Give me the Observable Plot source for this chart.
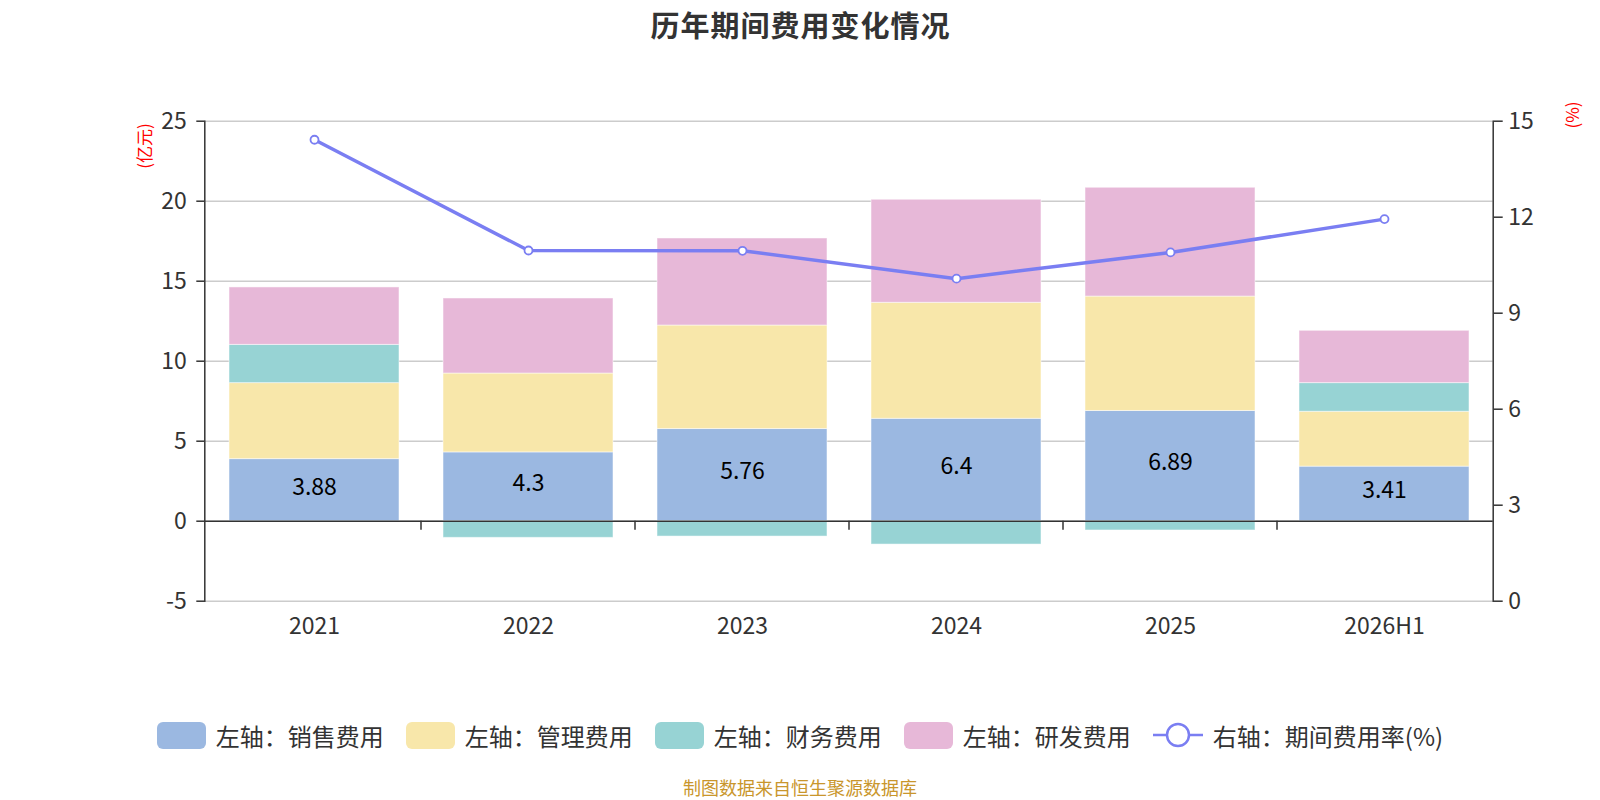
<!DOCTYPE html>
<html><head><meta charset="utf-8">
<script src="https://cdn.jsdelivr.net/npm/d3@7"></script>
<script src="https://cdn.jsdelivr.net/npm/@observablehq/plot@0.6"></script>
<style>
body{margin:0;background:#fff;font-family:"Noto Sans CJK SC","Noto Sans",sans-serif;}
#wrap{position:relative;width:1600px;height:800px;overflow:hidden;}
#title{height:60px;line-height:48px;text-align:center;font-size:29px;font-weight:bold;color:#333;letter-spacing:1px;padding-left:1px;box-sizing:border-box;}
#chart{height:640px;}
#legend{height:70px;display:flex;justify-content:center;align-items:center;gap:22px;font-size:24px;color:#333;}
.item{display:flex;align-items:center;}
.sw{width:49px;height:27px;border-radius:6px;margin-right:10px;}
#caption{height:30px;line-height:34px;text-align:center;font-size:18px;color:#c9962c;}
.unit{position:absolute;color:#ff0000;font-size:17px;transform:translate(-50%,-50%) rotate(-90deg);white-space:nowrap;line-height:1;}
</style></head>
<body>
<div id="wrap">
  <div id="title">历年期间费用变化情况</div>
  <div id="chart"></div>
  <div id="legend"></div>
  <div id="caption">制图数据来自恒生聚源数据库</div>
  <div class="unit" style="left:143px;top:146px;">(亿元)</div>
  <div class="unit" style="left:1571px;top:115px;">(%)</div>
</div>
<script>
const years = ["2021","2022","2023","2024","2025","2026H1"];
const sales = [3.88, 4.3, 5.76, 6.4, 6.89, 3.41];
const admin = [4.75, 4.93, 6.47, 7.25, 7.15, 3.43];
const finance = [2.39, -1.04, -0.96, -1.46, -0.58, 1.79];
const rnd = [3.59, 4.69, 5.44, 6.44, 6.80, 3.27];
const rate = [14.42, 10.96, 10.95, 10.08, 10.90, 11.94];

const seriesNames = ["左轴：销售费用","左轴：管理费用","左轴：财务费用","左轴：研发费用"];
const seriesColors = ["#9bb8e1","#f8e7aa","#97d3d4","#e7b8d8"];
const lineName = "右轴：期间费用率(%)";
const lineColor = "#7a7ef2";
const leftTicks = [-5,0,5,10,15,20,25];
const rightTicks = [0,3,6,9,12,15];

const seriesValues = [sales, admin, finance, rnd];
const stackRows = [];
seriesValues.forEach((vals, s) => vals.forEach((v, i) => stackRows.push({year: years[i], series: seriesNames[s], value: v})));
// right axis (0..15) maps onto left axis (-5..25)
const toLeft = r => r * 2 - 5;
const toRight = l => (l + 5) / 2;
const lineRows = years.map((y, i) => ({year: y, rate: rate[i]}));
const salesRows = years.map((y, i) => ({year: y, value: sales[i]}));

function bandTicks(index, scales, values, dimensions) {
  const x = scales.x, y = scales.y;
  const g = d3.create("svg:g").attr("stroke", "#333").attr("stroke-width", 1.5);
  const y0 = y(0);
  years.forEach((yr, i) => {
    if (i === 0) return;
    const px = x(yr);
    g.append("line").attr("x1", px).attr("x2", px).attr("y1", y0).attr("y2", y0 + 9);
  });
  return g.node();
}

const plot = Plot.plot({
  width: 1600,
  height: 640,
  marginTop: 60.7,
  marginBottom: 99.3,
  marginLeft: 204.3,
  marginRight: 107.3,
  style: {fontFamily: '"Noto Sans CJK SC","Noto Sans",sans-serif', color: "#333", background: "#fff"},
  x: {type: "band", domain: years, padding: 0},
  y: {domain: [-5, 25]},
  color: {domain: seriesNames, range: seriesColors},
  marks: [
    Plot.gridY(leftTicks, {stroke: "#cccccc", strokeOpacity: 1, strokeWidth: 1.5}),
    Plot.barY(stackRows, {x: "year", y: "value", fill: "series", insetLeft: 22, insetRight: 22, stroke: "#ffffff", strokeOpacity: 0.5, strokeWidth: 1}),
    Plot.ruleY([0], {stroke: "#333", strokeWidth: 1.5}),
    bandTicks,
    Plot.frame({anchor: "left", stroke: "#333", strokeWidth: 1.5}),
    Plot.frame({anchor: "right", stroke: "#333", strokeWidth: 1.5}),
    Plot.axisY(leftTicks, {anchor: "left", tickSize: 8, tickPadding: 10, fontSize: 23, label: null, tickFormat: d => String(d), stroke: "#333", strokeWidth: 1.5}),
    Plot.axisY(rightTicks.map(toLeft), {anchor: "right", tickSize: 9, tickPadding: 6, fontSize: 23, label: null, tickFormat: d => String(toRight(d)), stroke: "#333", strokeWidth: 1.5}),
    Plot.axisX({anchor: "bottom", tickSize: 0, tickPadding: 16, fontSize: 23, label: null}),
    Plot.text(salesRows, {x: "year", y: d => d.value / 2, text: d => String(d.value), fill: "#000", fontSize: 23, dy: -3}),
    Plot.line(lineRows, {x: "year", y: d => toLeft(d.rate), stroke: lineColor, strokeWidth: 3.5}),
    Plot.dot(lineRows, {x: "year", y: d => toLeft(d.rate), r: 4, fill: "#fff", stroke: lineColor, strokeWidth: 1.8})
  ]
});
document.getElementById("chart").appendChild(plot);

const legend = document.getElementById("legend");
seriesNames.forEach((n, i) => {
  const it = document.createElement("div"); it.className = "item";
  it.innerHTML = `<div class="sw" style="background:${seriesColors[i]}"></div><span>${n}</span>`;
  legend.appendChild(it);
});
const li = document.createElement("div"); li.className = "item";
li.innerHTML = `<svg width="50" height="30" style="margin-right:10px"><line x1="0" x2="50" y1="15" y2="15" stroke="${lineColor}" stroke-width="2.5"/><circle cx="25" cy="15" r="11" fill="#fff" stroke="${lineColor}" stroke-width="2.5"/></svg><span>${lineName}</span>`;
legend.appendChild(li);
</script>
</body></html>
